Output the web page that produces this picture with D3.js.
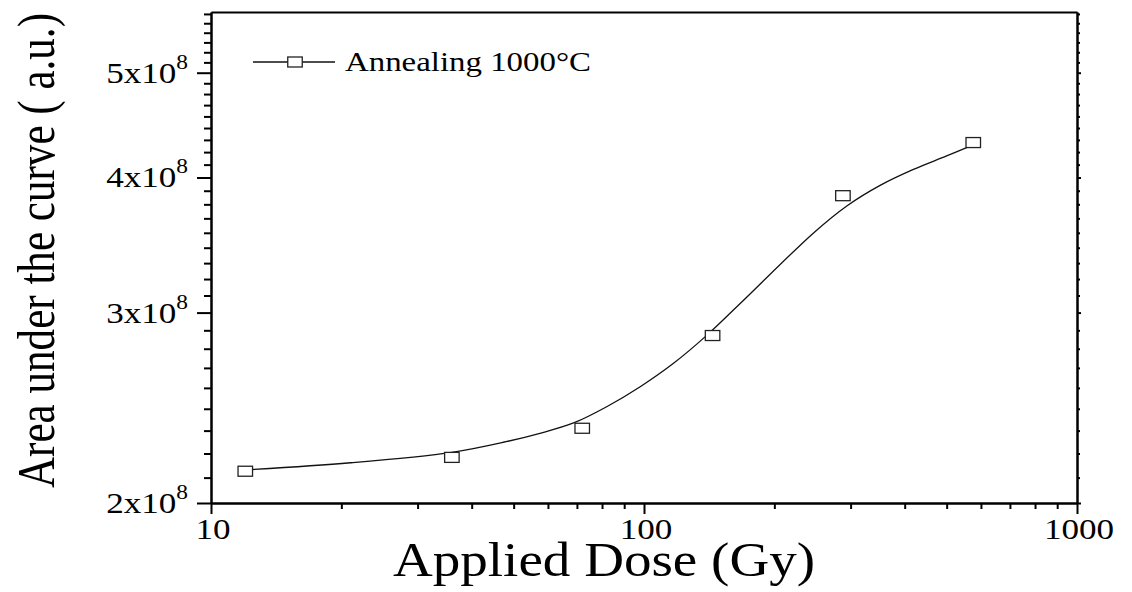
<!DOCTYPE html>
<html>
<head>
<meta charset="utf-8">
<script src="https://cdn.jsdelivr.net/npm/d3@7"></script>
<style>
  body { margin: 0; background: #fff; }
  svg text { font-family: "Liberation Serif", "Times New Roman", serif; fill: #000; }
</style>
</head>
<body>
<svg id="chart" width="1132" height="592"></svg>
<script>
// measured points
const pointDose = [12, 36, 72, 144, 288, 576];
const pointArea = [2.140e8, 2.204e8, 2.345e8, 2.857e8, 3.848e8, 4.309e8];

// fitted curve
const fitDose = [12, 21, 36, 48, 57.5, 69, 82, 98, 117, 140, 167, 246, 294, 351, 419, 500, 576];
const fitArea = [2.146e8, 2.179e8, 2.228e8, 2.279e8, 2.320e8, 2.373e8, 2.455e8, 2.562e8, 2.693e8,
                 2.861e8, 3.060e8, 3.553e8, 3.765e8, 3.934e8, 4.070e8, 4.188e8, 4.288e8];

const xTickValues = [10, 100, 1000];
const yTickValues = [2e8, 3e8, 4e8, 5e8];
const seriesName = 'Annealing 1000°C';

const width = 1132;
const height = 592;
const margin = { top: 12, right: 55, bottom: 89, left: 211 };
const stretch = 1.17; // text in the picture is drawn a bit wide

const svg = d3.select('#chart');

const x = d3.scaleLog().domain([10, 1000]).range([margin.left, width - margin.right]);
const y = d3.scaleLog().domain([2e8, 5.69e8]).range([height - margin.bottom, margin.top]);

// minor ticks: 2..9 per decade on x, 8 evenly spaced between majors on y
const xMinor = [];
for (let dec = 10; dec < 1000; dec *= 10) {
  for (let k = 2; k <= 9; k++) xMinor.push(dec * k);
}
const yMinor = [];
for (let v = 2e8; v < 5.69e8; v += 1e8) {
  for (let k = 1; k <= 8; k++) {
    const m = v + k * 1e8 / 9;
    if (m < 5.69e8) yMinor.push(m);
  }
}

function styleAxis(g) {
  g.selectAll('line').attr('stroke', '#000').attr('stroke-width', 2);
  g.selectAll('path').attr('stroke', '#000').attr('stroke-width', 2);
}

// bottom axis
const xAxisG = svg.append('g').attr('transform', `translate(0,${height - margin.bottom})`);
xAxisG.append('g').call(d3.axisBottom(x).tickValues(xTickValues).tickSize(11).tickSizeOuter(0).tickFormat('')).call(styleAxis);
xAxisG.append('g').call(d3.axisBottom(x).tickValues(xMinor).tickSize(6).tickSizeOuter(0).tickFormat('')).call(styleAxis);

// left axis
const yAxisG = svg.append('g').attr('transform', `translate(${margin.left},0)`);
yAxisG.append('g').call(d3.axisLeft(y).tickValues(yTickValues).tickSize(14).tickSizeOuter(0).tickFormat('')).call(styleAxis);
yAxisG.append('g').call(d3.axisLeft(y).tickValues(yMinor).tickSize(7).tickSizeOuter(0).tickFormat('')).call(styleAxis);

// right axis (short ticks) and top frame line
const rAxisG = svg.append('g').attr('transform', `translate(${width - margin.right},0)`);
rAxisG.append('g').call(d3.axisRight(y).tickValues(yTickValues).tickSize(4).tickSizeOuter(0).tickFormat('')).call(styleAxis);
rAxisG.append('g').call(d3.axisRight(y).tickValues(yMinor).tickSize(3).tickSizeOuter(0).tickFormat('')).call(styleAxis);
svg.append('g').attr('transform', `translate(0,${margin.top})`)
  .call(d3.axisTop(x).tickValues([]).tickSizeOuter(0)).call(styleAxis);

// x tick labels
svg.append('g').selectAll('text')
  .data(xTickValues)
  .join('text')
  .attr('transform', d => `translate(${x(d) + 2},${height - margin.bottom + 36}) scale(${stretch},1)`)
  .attr('text-anchor', 'middle')
  .attr('font-size', 30)
  .text(d => d);

// y tick labels  (Nx10^8)
const yLab = svg.append('g').selectAll('text')
  .data(yTickValues)
  .join('text')
  .attr('transform', d => `translate(188,${y(d) + 10}) scale(${stretch},1)`)
  .attr('text-anchor', 'end');
yLab.append('tspan').attr('font-size', 30).text(d => `${d / 1e8}x10`);
yLab.append('tspan').attr('font-size', 20).attr('dy', -14).text('8');

// axis titles
svg.append('text')
  .attr('x', 393)
  .attr('y', 576)
  .attr('font-size', 48)
  .attr('textLength', 422)
  .attr('lengthAdjust', 'spacingAndGlyphs')
  .text('Applied Dose (Gy)');

svg.append('text')
  .attr('transform', 'translate(54,488) rotate(-90) scale(1,1.12)')
  .attr('font-size', 48)
  .attr('textLength', 475)
  .attr('lengthAdjust', 'spacingAndGlyphs')
  .text('Area under the curve ( a.u.)');

// fit curve
const fit = fitDose.map((d, i) => ({ dose: d, area: fitArea[i] }));
const line = d3.line()
  .x(d => x(d.dose))
  .y(d => y(d.area))
  .curve(d3.curveCatmullRom.alpha(0.5));

svg.append('path')
  .datum(fit)
  .attr('d', line)
  .attr('fill', 'none')
  .attr('stroke', '#111')
  .attr('stroke-width', 1.3);

// points (open squares)
const points = pointDose.map((d, i) => ({ dose: d, area: pointArea[i] }));
const sqW = 14.5, sqH = 10;
svg.append('g').selectAll('rect')
  .data(points)
  .join('rect')
  .attr('x', d => x(d.dose) - sqW / 2)
  .attr('y', d => y(d.area) - sqH / 2)
  .attr('width', sqW)
  .attr('height', sqH)
  .attr('fill', '#fff')
  .attr('stroke', '#222')
  .attr('stroke-width', 1.3);

// legend
const legend = svg.append('g').attr('transform', 'translate(253,62)');
legend.append('line').attr('x1', 0).attr('x2', 82).attr('stroke', '#111').attr('stroke-width', 1.3);
legend.append('rect')
  .attr('x', 42 - sqW / 2).attr('y', -sqH / 2)
  .attr('width', sqW).attr('height', sqH)
  .attr('fill', '#fff').attr('stroke', '#222').attr('stroke-width', 1.3);
legend.append('text')
  .attr('x', 92)
  .attr('y', 9)
  .attr('font-size', 28)
  .attr('textLength', 246)
  .attr('lengthAdjust', 'spacingAndGlyphs')
  .text(seriesName);
</script>
</body>
</html>
